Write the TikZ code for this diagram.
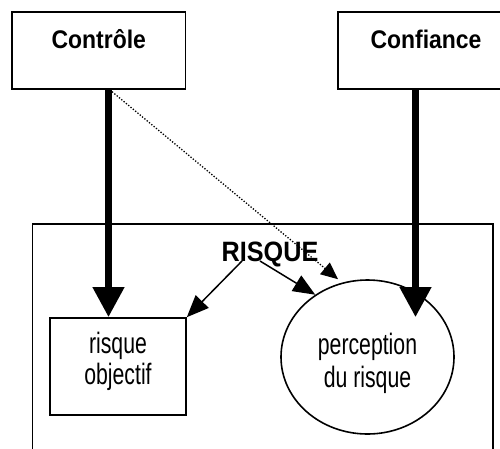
\documentclass[tikz,border=0pt]{standalone}
\usepackage{fontspec}
\setmainfont{Liberation Sans}
\newfontfamily\bnarrow{Liberation Sans}[FakeStretch=0.9]
\newfontfamily\rnarrow{Liberation Sans}[FakeStretch=0.72]
\usetikzlibrary{arrows.meta,shapes.geometric}
\begin{document}
\begin{tikzpicture}[x=1pt,y=-1pt,
  box/.style={draw, line width=1.6pt, rectangle, inner sep=0pt},
  toplabel/.style={font=\bnarrow\bfseries\fontsize{25.5}{30}\selectfont, text height=18pt, text depth=23pt},
  innertext/.style={font=\rnarrow\fontsize{29.5}{31}\selectfont, align=center},
  heavy/.style={line width=7pt, -{Triangle[length=30pt,width=30pt]}},
  thinarrow/.style={line width=1.5pt, -{Triangle[length=22pt,width=18pt]}},
  dotarrow/.style={line width=1.3pt, dash pattern=on 1.3pt off 1.7pt, -{Triangle[length=17pt,width=15pt]}}]
\useasboundingbox (0,0) rectangle (500,448);
\node[box, toplabel, minimum width=173.5pt, minimum height=77pt] (ctrl) at (98.75,50.5) {Contrôle};
\node[box, toplabel, minimum width=176pt, minimum height=77pt] (conf) at (426,50.5) {Confiance};
\node[box, anchor=north west, minimum width=460.5pt, minimum height=247pt] (zone) at (31.5,223) {};
\node[font=\bnarrow\bfseries\fontsize{28}{30}\selectfont, anchor=base, inner sep=0pt] (risk) at (270,261) {RISQUE};
\node[box, innertext, minimum width=136pt, minimum height=97pt, text height=41pt, text depth=6pt] (ro) at (118,366.5) {risque\\objectif};
\node[draw, ellipse, line width=1.6pt, innertext, font=\rnarrow\fontsize{29.5}{33}\selectfont, minimum width=173pt, minimum height=154pt, text height=66pt, text depth=6pt] (perc) at (367.5,357) {perception\\du risque};
\draw[heavy] ([xshift=9.75pt]ctrl.south) -- ([xshift=9.75pt]ctrl.south |- ro.north);
\draw[heavy] ([xshift=-10.5pt]conf.south) -- ([xshift=-10.5pt]conf.south |- ro.north);
\draw[dotarrow] ([xshift=11pt]ctrl.south) -- ([xshift=-29.5pt]perc.north);
\draw[thinarrow] ([xshift=-28pt]risk.base) -- (ro.north east);
\draw[thinarrow] ([xshift=-10pt]risk.base) -- (perc.130);
\end{tikzpicture}
\end{document}
